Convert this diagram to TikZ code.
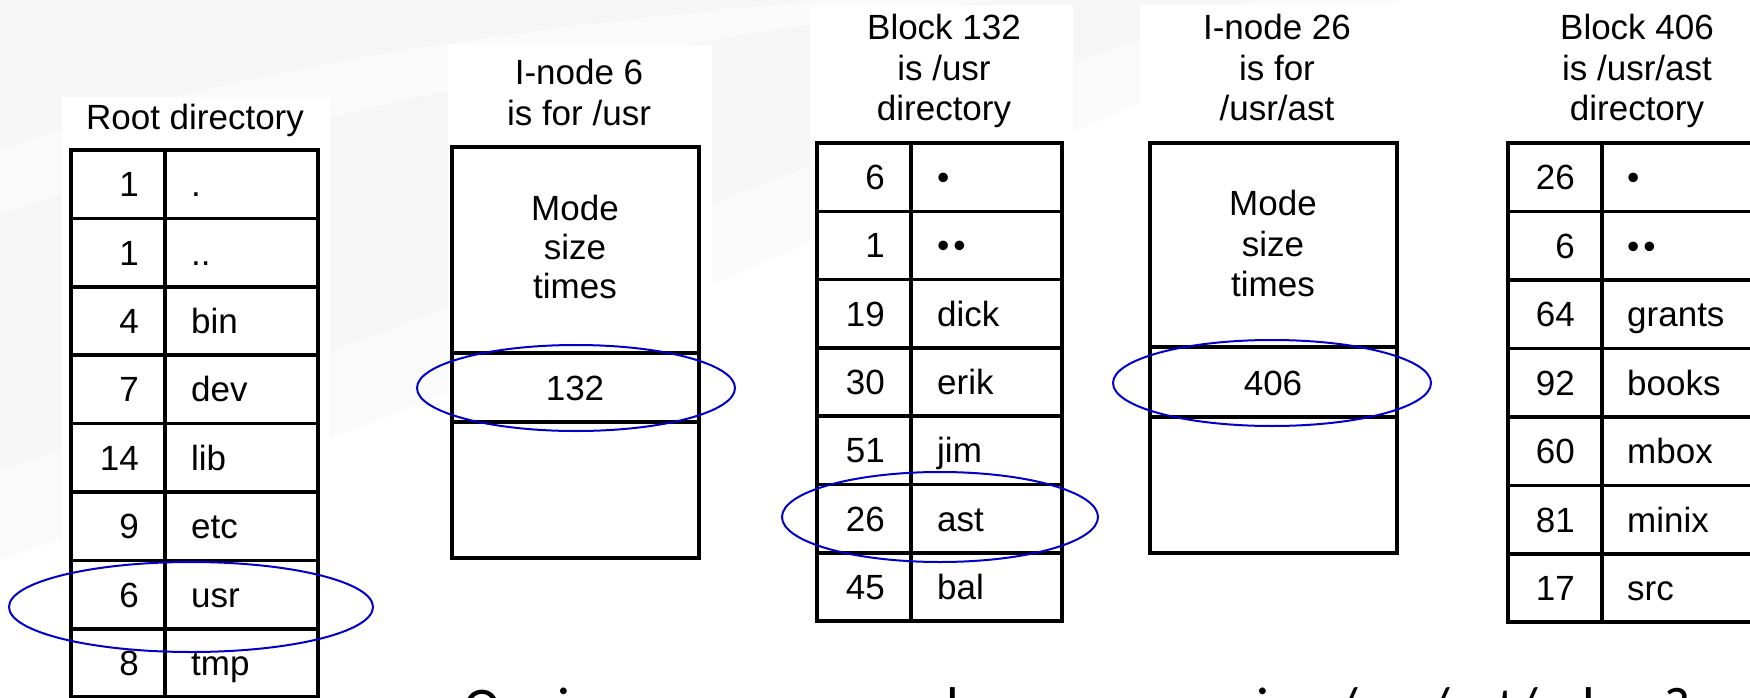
\documentclass[tikz,border=0pt]{standalone}
\usepackage{fontspec}
\setmainfont{Liberation Sans}
\newfontfamily\qfont{Carlito}
\definecolor{ringblue}{RGB}{0,0,200}
\definecolor{bgray}{RGB}{246,246,246}
\definecolor{bgray2}{RGB}{250,250,250}
\begin{document}
\begin{tikzpicture}[x=1pt,y=-1pt,
  tbl/.style={line width=3.5pt},
  txt/.style={inner sep=0pt, font=\fontsize{35}{40}\selectfont},
  num/.style={txt, anchor=base east},
  nam/.style={txt, anchor=base west},
  lbl/.style={txt, anchor=base},
  ring/.style={draw=ringblue, line width=2pt}]
\useasboundingbox (0,0) rectangle (1750,698);
% background
\fill[white] (0,0) rectangle (1750,698);
\fill[bgray2] (0,0) -- (1400,0) .. controls (1000,150) and (600,350) .. (0,560) -- cycle;
\fill[bgray] (0,0) -- (1250,0) .. controls (900,120) and (500,300) .. (0,470) -- cycle;
\fill[bgray2] (0,150) .. controls (250,60) and (550,25) .. (820,0) -- (1000,0) .. controls (650,40) and (300,110) .. (0,215) -- cycle;
% white patches of the pasted figure
\fill[white] (62,97) rectangle (330,698);
\fill[white] (448,45) rectangle (712,575);
\fill[white] (810,5) rectangle (1073,640);
\fill[white] (1140,5) rectangle (1750,640);

% ---------- Root directory ----------
\node[lbl] (rootlbl) at (195,130) {Root directory};
\draw[tbl] (71,150) rectangle (318,697);
\draw[tbl] (165,150) -- (165,697);
\foreach \k in {1,...,7} \draw[tbl] (71,150+\k*68.4) -- (318,150+\k*68.4);
\foreach \n/\s [count=\i] in {1/., 1/.., 4/bin, 7/dev, 14/lib, 9/etc, 6/usr, 8/tmp}{
  \node[num] (rn\i) at (139,{150+(\i-0.5)*68.4+12.5}) {\n};
  \node[nam] (rs\i) at (191,{150+(\i-0.5)*68.4+12.5}) {\s};
}

% ---------- I-node 6 ----------
\node[lbl] (i6a) at (579,85) {I-node 6};
\node[lbl] (i6b) at (579,125) {is for /usr};
\draw[tbl] (452,147) rectangle (699,558);
\draw[tbl] (452,353) -- (699,353);
\draw[tbl] (452,422) -- (699,422);
\node[lbl] (i6m) at (575,220) {Mode};
\node[lbl] (i6s) at (575,259) {size};
\node[lbl] (i6t) at (575,298) {times};
\node[lbl] (i6n) at (575,400) {132};

% ---------- Block 132 ----------
\node[lbl] (b1a) at (944,40) {Block 132};
\node[lbl] (b1b) at (944,81) {is /usr};
\node[lbl] (b1c) at (944,121) {directory};
\draw[tbl] (817,143) rectangle (1062,621);
\draw[tbl] (911,143) -- (911,621);
\foreach \k in {1,...,6} \draw[tbl] (817,143+\k*68.3) -- (1062,143+\k*68.3);
\foreach \n/\s [count=\i] in {6/•, 1/•\hspace{4pt}•, 19/dick, 30/erik, 51/jim, 26/ast, 45/bal}{
  \node[num] (bn\i) at (885,{143+(\i-0.5)*68.3+12.5}) {\n};
  \node[nam] (bs\i) at (937,{143+(\i-0.5)*68.3+12.5}) {\s};
}

% ---------- I-node 26 ----------
\node[lbl] (i26a) at (1277,40) {I-node 26};
\node[lbl] (i26b) at (1277,81) {is for};
\node[lbl] (i26c) at (1277,121) {/usr/ast};
\draw[tbl] (1150,143) rectangle (1397,553);
\draw[tbl] (1150,347) -- (1397,347);
\draw[tbl] (1150,417) -- (1397,417);
\node[lbl] (i26m) at (1273,215) {Mode};
\node[lbl] (i26s) at (1273,256) {size};
\node[lbl] (i26t) at (1273,296) {times};
\node[lbl] (i26n) at (1273,395) {406};

% ---------- Block 406 ----------
\node[lbl] (b4a) at (1637,40) {Block 406};
\node[lbl] (b4b) at (1637,81) {is /usr/ast};
\node[lbl] (b4c) at (1637,121) {directory};
\draw[tbl] (1508,143) rectangle (1756,622);
\draw[tbl] (1602,143) -- (1602,622);
\foreach \k in {1,...,6} \draw[tbl] (1508,143+\k*68.5) -- (1756,143+\k*68.5);
\foreach \n/\s [count=\i] in {26/•, 6/•\hspace{4pt}•, 64/grants, 92/books, 60/mbox, 81/minix, 17/src}{
  \node[num] (cn\i) at (1575,{143+(\i-0.5)*68.5+12.5}) {\n};
  \node[nam] (cs\i) at (1627,{143+(\i-0.5)*68.5+12.5}) {\s};
}

% ---------- highlight rings ----------
\draw[ring] (191,607) ellipse [x radius=182, y radius=45];
\draw[ring] (576,388) ellipse [x radius=159, y radius=43];
\draw[ring] (940,517) ellipse [x radius=158, y radius=45];
\draw[ring] (1272,383) ellipse [x radius=159, y radius=43];

% ---------- question ----------
\node[anchor=base west, inner sep=0pt, font=\qfont\fontsize{56}{60}\selectfont] (q) at (463,726) {Quais os passos para buscar o arquivo /usr/ast/mbox?};
\end{tikzpicture}
\end{document}
